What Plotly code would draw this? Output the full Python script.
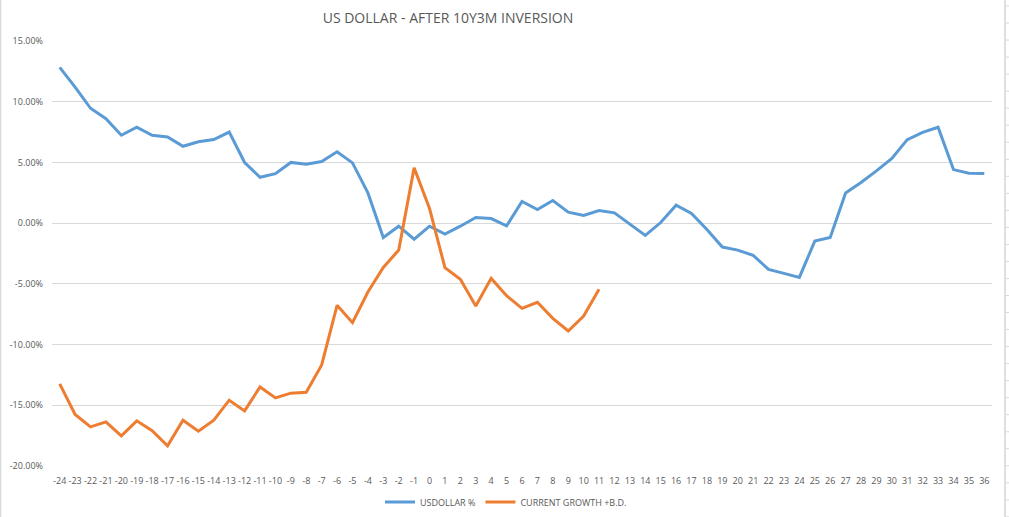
import plotly.graph_objects as go

months = list(range(-24, 37))

usdollar = [12.83, 11.2, 9.46, 8.6, 7.24, 7.9, 7.24, 7.1, 6.33, 6.7, 6.88, 7.5,
            4.99, 3.78, 4.08, 5.0, 4.85, 5.07, 5.88, 4.96, 2.49, -1.18, -0.25, -1.32,
            -0.25, -0.9, -0.25, 0.47, 0.38, -0.22, 1.78, 1.12, 1.86, 0.9, 0.63, 1.04,
            0.85, -0.08, -1.01, 0.05, 1.48, 0.8, -0.52, -1.97, -2.22, -2.66, -3.81,
            -4.14, -4.47, -1.48, -1.18, 2.49, 3.35, 4.3, 5.32, 6.88, 7.48, 7.9, 4.41,
            4.11, 4.08]

current_growth = [-13.24, -15.76, -16.78, -16.37, -17.52, -16.28, -17.1, -18.34,
                  -16.23, -17.13, -16.23, -14.58, -15.46, -13.49, -14.39, -14.0,
                  -13.93, -11.68, -6.77, -8.2, -5.67, -3.65, -2.22, 4.55, 1.2,
                  -3.67, -4.63, -6.83, -4.55, -5.98, -7.02, -6.52, -7.84, -8.88,
                  -7.65, -5.45]

y_ticks = [15, 10, 5, 0, -5, -10, -15, -20]
y_tick_labels = [f"{v:.2f}%" for v in y_ticks]

title_text = "US DOLLAR - AFTER 10Y3M INVERSION"

fig = go.Figure()
fig.add_trace(go.Scatter(x=months, y=usdollar, mode="lines", name="USDOLLAR %",
                         line=dict(color="#5B9BD5", width=3)))
fig.add_trace(go.Scatter(x=months[:len(current_growth)], y=current_growth, mode="lines",
                         name="CURRENT GROWTH +B.D.",
                         line=dict(color="#ED7D31", width=3)))

W, H = 1009, 517
L, R, T, B = 52, 17, 41, 51
pw, ph = W - L - R, H - T - B

def px_x(px):
    return (px - L) / pw

def px_y(py):
    return (H - B - py) / ph

shapes = []
# spreadsheet border lines around the chart object
shapes.append(dict(type="line", xref="paper", yref="paper", x0=px_x(0.5), x1=px_x(0.5),
                   y0=px_y(0), y1=px_y(517), line=dict(color="#D9D9D9", width=1.5)))
shapes.append(dict(type="line", xref="paper", yref="paper", x0=px_x(1005), x1=px_x(1005),
                   y0=px_y(0), y1=px_y(517), line=dict(color="#D4D4D4", width=1.5)))
k = 0
while 6 + 17.03 * k < 517:
    yy = 6 + 17.03 * k
    shapes.append(dict(type="line", xref="paper", yref="paper", x0=px_x(1006), x1=px_x(1009),
                       y0=px_y(yy), y1=px_y(yy), line=dict(color="#D9D9D9", width=1)))
    k += 1

fig.update_layout(
    width=W, height=H,
    margin=dict(l=L, r=R, t=T, b=B, pad=0, autoexpand=False),
    paper_bgcolor="white", plot_bgcolor="white",
    font=dict(family="Open Sans", color="#595959", size=9),
    title=dict(text=title_text, x=448 / W, xref="container", xanchor="center",
               y=1 - 18 / H, yref="container", yanchor="middle",
               font=dict(family="Open Sans", size=14, color="#595959")),
    xaxis=dict(range=[-24.5, 36.5], tickmode="array", tickvals=months,
               ticktext=[str(m) for m in months], showgrid=False, zeroline=False,
               showline=False, ticks="outside", ticklen=6, tickcolor="rgba(0,0,0,0)",
               automargin=False, tickfont=dict(size=9, color="#595959")),
    yaxis=dict(range=[-20, 15], tickmode="array", tickvals=y_ticks,
               ticktext=y_tick_labels, showgrid=True, gridcolor="#D9D9D9", gridwidth=1,
               zeroline=False, showline=False, ticks="", ticklabelstandoff=8,
               automargin=False, tickfont=dict(size=9, color="#595959")),
    legend=dict(orientation="h", x=px_x(506), xanchor="center", y=px_y(502),
                yanchor="middle", font=dict(size=9, color="#595959"),
                bgcolor="rgba(0,0,0,0)", itemwidth=30),
    shapes=shapes,
    showlegend=True,
)

fig.write_html("out.html")
